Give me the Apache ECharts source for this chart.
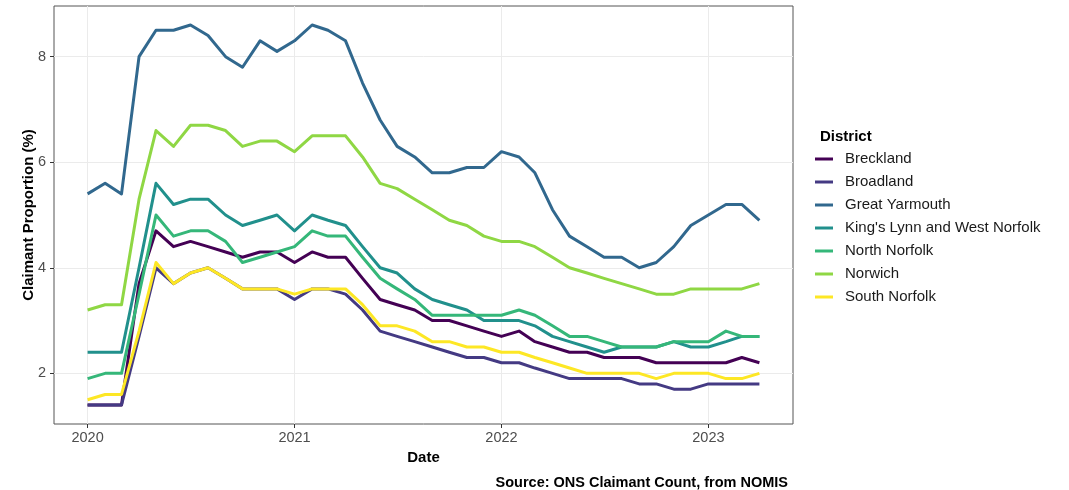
<!DOCTYPE html>
<html>
<head>
<meta charset="utf-8">
<title>Claimant Proportion by District</title>
<script src="https://cdn.jsdelivr.net/npm/echarts@6/dist/echarts.min.js"></script>
<style>
  html, body { margin: 0; padding: 0; background: #ffffff; }
  #chart { width: 1069px; height: 490px; }
</style>
</head>
<body>
<div id="chart"></div>
<script>
// Monthly claimant count as a share of residents aged 16-64, Norfolk districts
const months = [
  '2020-01','2020-02','2020-03','2020-04','2020-05','2020-06','2020-07','2020-08','2020-09','2020-10','2020-11','2020-12',
  '2021-01','2021-02','2021-03','2021-04','2021-05','2021-06','2021-07','2021-08','2021-09','2021-10','2021-11','2021-12',
  '2022-01','2022-02','2022-03','2022-04','2022-05','2022-06','2022-07','2022-08','2022-09','2022-10','2022-11','2022-12',
  '2023-01','2023-02','2023-03','2023-04'
];

const districts = ['Breckland', 'Broadland', 'Great Yarmouth', "King's Lynn and West Norfolk", 'North Norfolk', 'Norwich', 'South Norfolk'];

const breckland = [1.4,1.4,1.4,3.7,4.7,4.4,4.5,4.4,4.3,4.2,4.3,4.3,4.1,4.3,4.2,4.2,3.8,3.4,3.3,3.2,3.0,3.0,2.9,2.8,2.7,2.8,2.6,2.5,2.4,2.4,2.3,2.3,2.3,2.2,2.2,2.2,2.2,2.2,2.3,2.2];
const broadland = [1.4,1.4,1.4,2.7,4.0,3.7,3.9,4.0,3.8,3.6,3.6,3.6,3.4,3.6,3.6,3.5,3.2,2.8,2.7,2.6,2.5,2.4,2.3,2.3,2.2,2.2,2.1,2.0,1.9,1.9,1.9,1.9,1.8,1.8,1.7,1.7,1.8,1.8,1.8,1.8];
const greatYarmouth = [5.4,5.6,5.4,8.0,8.5,8.5,8.6,8.4,8.0,7.8,8.3,8.1,8.3,8.6,8.5,8.3,7.5,6.8,6.3,6.1,5.8,5.8,5.9,5.9,6.2,6.1,5.8,5.1,4.6,4.4,4.2,4.2,4.0,4.1,4.4,4.8,5.0,5.2,5.2,4.9];
const kingsLynn = [2.4,2.4,2.4,4.0,5.6,5.2,5.3,5.3,5.0,4.8,4.9,5.0,4.7,5.0,4.9,4.8,4.4,4.0,3.9,3.6,3.4,3.3,3.2,3.0,3.0,3.0,2.9,2.7,2.6,2.5,2.4,2.5,2.5,2.5,2.6,2.5,2.5,2.6,2.7,2.7];
const northNorfolk = [1.9,2.0,2.0,3.5,5.0,4.6,4.7,4.7,4.5,4.1,4.2,4.3,4.4,4.7,4.6,4.6,4.2,3.8,3.6,3.4,3.1,3.1,3.1,3.1,3.1,3.2,3.1,2.9,2.7,2.7,2.6,2.5,2.5,2.5,2.6,2.6,2.6,2.8,2.7,2.7];
const norwich = [3.2,3.3,3.3,5.3,6.6,6.3,6.7,6.7,6.6,6.3,6.4,6.4,6.2,6.5,6.5,6.5,6.1,5.6,5.5,5.3,5.1,4.9,4.8,4.6,4.5,4.5,4.4,4.2,4.0,3.9,3.8,3.7,3.6,3.5,3.5,3.6,3.6,3.6,3.6,3.7];
const southNorfolk = [1.5,1.6,1.6,2.8,4.1,3.7,3.9,4.0,3.8,3.6,3.6,3.6,3.5,3.6,3.6,3.6,3.3,2.9,2.9,2.8,2.6,2.6,2.5,2.5,2.4,2.4,2.3,2.2,2.1,2.0,2.0,2.0,2.0,1.9,2.0,2.0,2.0,1.9,1.9,2.0];

const seriesValues = [breckland, broadland, greatYarmouth, kingsLynn, northNorfolk, norwich, southNorfolk];

// viridis, 7 steps
const palette = ['#440154', '#443A83', '#31688E', '#21908C', '#35B779', '#8FD744', '#FDE725'];

const yearTicks = [2020, 2021, 2022, 2023];
const proportionTicks = [2, 4, 6, 8];

// first day of each month as a fractional year
function toYear(ym) {
  const [y, m] = ym.split('-').map(Number);
  const start = Date.UTC(y, 0, 1);
  const end = Date.UTC(y + 1, 0, 1);
  return y + (Date.UTC(y, m - 1, 1) - start) / (end - start);
}
const xs = months.map(toYear);

// padded ranges (5% on each side of the data)
const xMin = xs[0], xMax = xs[xs.length - 1];
const xPad = (xMax - xMin) * 0.05;
let yLo = Infinity, yHi = -Infinity;
seriesValues.forEach(v => v.forEach(d => { yLo = Math.min(yLo, d); yHi = Math.max(yHi, d); }));
const yPad = (yHi - yLo) * 0.05;

const FONT = '"Liberation Sans", Arial, sans-serif';
const MAJOR = '#EBEBEB';
const MINOR = '#F4F4F4';

const chart = echarts.init(document.getElementById('chart'), null, { renderer: 'canvas' });

chart.setOption({
  animation: false,
  backgroundColor: '#ffffff',
  textStyle: { fontFamily: FONT },
  title: [
    {
      text: 'District', left: 815, top: 124,
      textStyle: { fontFamily: FONT, fontSize: 15, fontWeight: 'bold', color: '#000000' }
    },
    {
      text: 'Source: ONS Claimant Count, from NOMIS', right: 276, top: 470,
      textStyle: { fontFamily: FONT, fontSize: 14.5, fontWeight: 'bold', color: '#000000' }
    }
  ],
  legend: {
    orient: 'vertical', left: 815, top: 151, padding: 0,
    itemWidth: 18, itemHeight: 3, itemGap: 7, icon: 'rect',
    selectedMode: false,
    data: districts,
    textStyle: { fontFamily: FONT, fontSize: 15, lineHeight: 16, color: '#1a1a1a', padding: [0, 0, 0, 7] }
  },
  grid: {
    left: 54, right: 276, top: 6, bottom: 66,
    show: true, borderColor: '#555555', borderWidth: 1, backgroundColor: '#ffffff',
    outerBoundsMode: 'none'
  },
  xAxis: [
    {
      type: 'value', min: xMin - xPad, max: xMax + xPad,
      minInterval: 0.5, maxInterval: 0.5,
      position: 'bottom',
      name: 'Date', nameLocation: 'middle', nameGap: 26, nameMoveOverlap: false,
      nameTextStyle: { fontFamily: FONT, fontSize: 15, fontWeight: 'bold', color: '#000000' },
      axisLine: { show: false },
      axisTick: { show: true, customValues: yearTicks, length: 4, lineStyle: { color: '#333333' } },
      axisLabel: { customValues: yearTicks, margin: 6, fontFamily: FONT, fontSize: 14.5, color: '#4D4D4D', formatter: v => String(v) },
      splitLine: { show: true, showMinLine: false, showMaxLine: false, lineStyle: { color: MINOR, width: 1 } }
    },
    {
      type: 'value', min: xMin - xPad, max: xMax + xPad,
      minInterval: 1, maxInterval: 1,
      position: 'top',
      axisLine: { show: false }, axisTick: { show: false }, axisLabel: { show: false },
      splitLine: { show: true, showMinLine: false, showMaxLine: false, lineStyle: { color: MAJOR, width: 1 } }
    }
  ],
  yAxis: [
    {
      type: 'value', min: yLo - yPad, max: yHi + yPad,
      minInterval: 1, maxInterval: 1,
      position: 'left',
      name: 'Claimant Proportion (%)', nameLocation: 'middle', nameGap: 18, nameMoveOverlap: false,
      nameTextStyle: { fontFamily: FONT, fontSize: 15, fontWeight: 'bold', color: '#000000' },
      axisLine: { show: false },
      axisTick: { show: true, customValues: proportionTicks, length: 4, lineStyle: { color: '#333333' } },
      axisLabel: { customValues: proportionTicks, margin: 8, fontFamily: FONT, fontSize: 14.5, color: '#4D4D4D' },
      splitLine: { show: true, showMinLine: false, showMaxLine: false, lineStyle: { color: MINOR, width: 1 } }
    },
    {
      type: 'value', min: yLo - yPad, max: yHi + yPad,
      minInterval: 2, maxInterval: 2,
      position: 'right',
      axisLine: { show: false }, axisTick: { show: false }, axisLabel: { show: false },
      splitLine: { show: true, showMinLine: false, showMaxLine: false, lineStyle: { color: MAJOR, width: 1 } }
    }
  ],
  series: districts.map((name, k) => ({
    name,
    type: 'line',
    xAxisIndex: 0,
    yAxisIndex: 0,
    data: xs.map((x, i) => [x, seriesValues[k][i]]),
    showSymbol: false,
    symbol: 'none',
    silent: true,
    color: palette[k],
    lineStyle: { color: palette[k], width: 3, cap: 'butt', join: 'round' },
    emphasis: { disabled: true }
  }))
});
</script>
</body>
</html>
